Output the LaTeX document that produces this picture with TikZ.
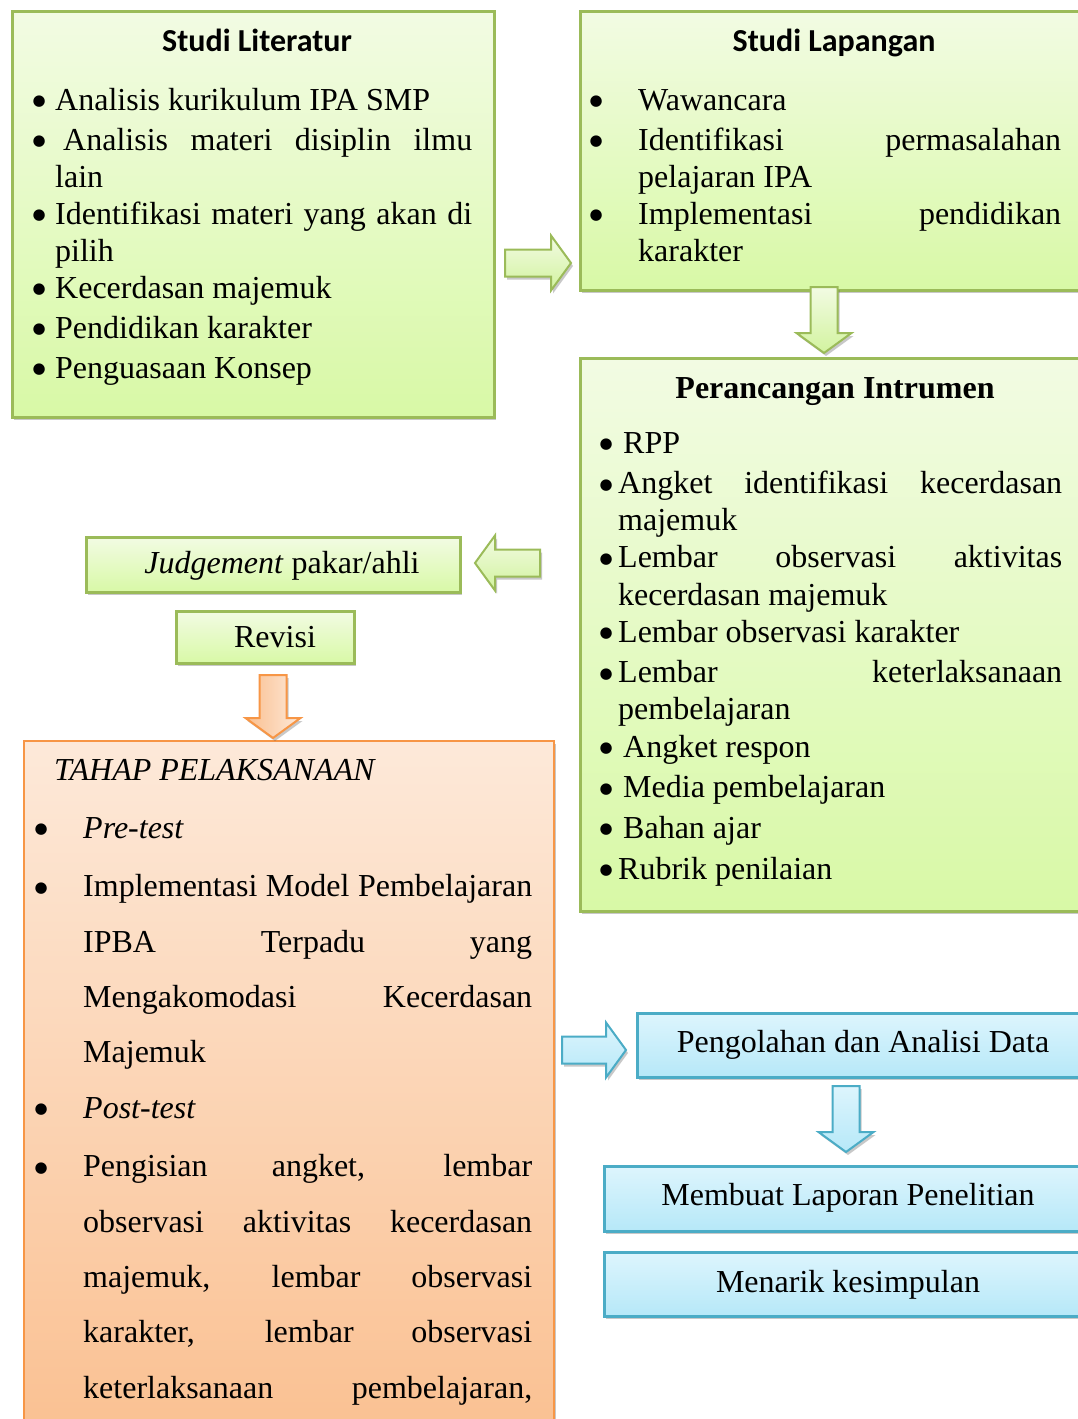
\documentclass[tikz,border=0pt]{standalone}
\usepackage{fontspec}
\setmainfont{Liberation Serif}
\newfontfamily\calibri{Carlito}
\newfontfamily\dotfont{DejaVu Sans}
\usepackage{array}
\usetikzlibrary{shadows}
\definecolor{olivedk}{HTML}{9BBB59}
\definecolor{olivetop}{HTML}{F2FBE3}
\definecolor{olivebot}{HTML}{D8F9A6}
\definecolor{orangedk}{HTML}{F79646}
\definecolor{orangetop}{HTML}{FDE9D9}
\definecolor{orangebot}{HTML}{FABF8F}
\definecolor{aquadk}{HTML}{4BACC6}
\definecolor{aquatop}{HTML}{DDF5FD}
\definecolor{aquabot}{HTML}{B6E8F8}
\newcommand{\bodysize}{\fontsize{32}{37.1}\selectfont}
\newcommand{\jus}[1]{\makebox[\linewidth][s]{#1}}
\newcommand{\bul}{\hspace*{-0.5pt}\raisebox{4.5pt}{\dotfont\fontsize{15}{15}\selectfont ●}}
% block arrow: style, tail coordinate, direction, length
\newcommand{\blockarrow}[4]{%
  \draw[#1, shift={(#2)}, rotate=#3] (0,-13.5) -- ({#4-20},-13.5) -- ({#4-20},-27.5)
    -- (#4,0) -- ({#4-20},27.5) -- ({#4-20},13.5) -- (0,13.5) -- cycle;}
\tikzset{
  boxshadow/.style={drop shadow={shadow xshift=2pt,shadow yshift=-3pt,opacity=.3,fill=black!70}},
  greenbox/.style={draw=olivedk, line width=2.5pt, top color=olivetop, bottom color=olivebot,
    boxshadow, inner sep=0pt, anchor=north west},
  orangebox/.style={draw=orangedk, line width=2pt, top color=orangetop, bottom color=orangebot,
    boxshadow, inner sep=0pt, anchor=north west},
  aquabox/.style={draw=aquadk, line width=2.5pt, top color=aquatop, bottom color=aquabot,
    boxshadow, inner sep=0pt, anchor=north west},
  greenarrow/.style={draw=olivedk, line width=2pt, top color=olivetop, bottom color=olivebot!90!olivedk, boxshadow},
  orangearrow/.style={draw=orangedk, line width=2pt, left color=orangebot, right color=orangetop, boxshadow},
  aquaarrow/.style={draw=aquadk, line width=2pt, top color=aquatop, bottom color=aquabot, boxshadow},
  label/.style={anchor=base, inner sep=0pt},
  listtext/.style={anchor=base west, inner sep=0pt},
  titlesans/.style={label, font=\bodysize\calibri\bfseries},
}

\begin{document}
\begin{tikzpicture}[x=1pt, y=-1pt, font=\bodysize]
\clip (0,0) rectangle (1078,1419);
\fill[white] (0,0) rectangle (1078,1419);
% boxes
\node[greenbox, minimum width=482pt, minimum height=406pt] (lit) at (11,10) {};
\node[greenbox, minimum width=511pt, minimum height=279pt] (lap) at (579,10) {};
\node[greenbox, minimum width=511pt, minimum height=553pt] (ran) at (579,357) {};
\node[greenbox, minimum width=374pt, minimum height=55pt] (judge) at (85,536) {};
\node[greenbox, minimum width=178pt, minimum height=52pt] (revisi) at (175,610) {};
\node[orangebox, minimum width=530pt, minimum height=720pt] (tahap) at (23,740) {};
\node[aquabox, minimum width=454pt, minimum height=64pt] (olah) at (636,1012) {};
\node[aquabox, minimum width=487pt, minimum height=65pt] (lapor) at (603,1165) {};
\node[aquabox, minimum width=487pt, minimum height=64pt] (simpul) at (603,1251) {};
% studi literatur
\node[titlesans] (litT) at (257,51) {Studi Literatur};
\node[listtext] (litL) at (33,110) {\begin{tabular}[t]{@{}p{22pt}@{}p{417pt}@{}}
\bul & Analisis kurikulum IPA SMP\\[2.9pt]
\bul & \jus{\hspace{8pt}Analisis materi disiplin ilmu}\newline lain\\[2.9pt]
\bul & \jus{Identifikasi materi yang akan di}\newline pilih\\[2.9pt]
\bul & Kecerdasan majemuk\\[2.9pt]
\bul & Pendidikan karakter\\[2.9pt]
\bul & Penguasaan Konsep
\end{tabular}};
% studi lapangan
\node[titlesans] (lapT) at (834,51) {Studi Lapangan};
\node[listtext] (lapL) at (590,110) {\begin{tabular}[t]{@{}p{48pt}@{}p{423pt}@{}}
\bul & Wawancara\\[2.9pt]
\bul & \jus{Identifikasi permasalahan}\newline pelajaran IPA\\[2.9pt]
\bul & \jus{Implementasi pendidikan}\newline karakter
\end{tabular}};
% perancangan
\node[label, font=\bodysize\bfseries] (ranT) at (835,398) {Perancangan Intrumen};
\node[listtext] (ranL) at (600,453) {\begin{tabular}[t]{@{}p{18pt}@{}p{444pt}@{}}
\bul & \hspace{5pt}RPP\\[3.6pt]
\bul & \jus{Angket identifikasi kecerdasan}\newline majemuk\\[3.6pt]
\bul & \jus{Lembar observasi aktivitas}\newline kecerdasan majemuk\\[3.6pt]
\bul & Lembar observasi karakter\\[3.6pt]
\bul & \jus{Lembar keterlaksanaan}\newline pembelajaran\\[3.6pt]
\bul & \hspace{5pt}Angket respon\\[3.6pt]
\bul & \hspace{5pt}Media pembelajaran\\[3.6pt]
\bul & \hspace{5pt}Bahan ajar\\[3.6pt]
\bul & Rubrik penilaian
\end{tabular}};
% judgement and revisi
\node[label] (judgeT) at (282,573) {\textit{Judgement} pakar/ahli};
\node[label] (revisiT) at (275,647) {Revisi};
% tahap pelaksanaan
\node[listtext, font=\bodysize\itshape] (tahapT) at (54,780) {TAHAP PELAKSANAAN};
\node[listtext, font=\fontsize{32}{55.3}\selectfont] (tahapL) at (35,838) {\begin{tabular}[t]{@{}p{48pt}@{}p{449pt}@{}}
\bul & \textit{Pre-test}\\[3.5pt]
\bul & \jus{Implementasi Model Pembelajaran}\newline \jus{IPBA Terpadu yang}\newline
  \jus{Mengakomodasi Kecerdasan}\newline Majemuk\\[3.5pt]
\bul & \textit{Post-test}\\[3.5pt]
\bul & \jus{Pengisian angket, lembar}\newline \jus{observasi aktivitas kecerdasan}\newline
  \jus{majemuk, lembar observasi}\newline \jus{karakter, lembar observasi}\newline
  \jus{keterlaksanaan pembelajaran,}
\end{tabular}};
% analysis and report
\node[label] (olahT) at (863,1052) {Pengolahan dan Analisi Data};
\node[label] (laporT) at (848,1205) {Membuat Laporan Penelitian};
\node[label] (simpulT) at (848,1292) {Menarik kesimpulan};
% block arrows
\coordinate (aLitLap) at (505,263);
\coordinate (aLapRan) at (824,287);
\coordinate (aRanJudge) at (540,563);
\coordinate (aRevTahap) at (273,675);
\coordinate (aTahapOlah) at (562,1050);
\coordinate (aOlahLapor) at (846,1086);
\blockarrow{greenarrow}{aLitLap}{0}{66}
\blockarrow{greenarrow}{aLapRan}{-90}{66}
\blockarrow{greenarrow}{aRanJudge}{180}{65}
\blockarrow{orangearrow}{aRevTahap}{-90}{63}
\blockarrow{aquaarrow}{aTahapOlah}{0}{64}
\blockarrow{aquaarrow}{aOlahLapor}{-90}{66}
\end{tikzpicture}
\end{document}
